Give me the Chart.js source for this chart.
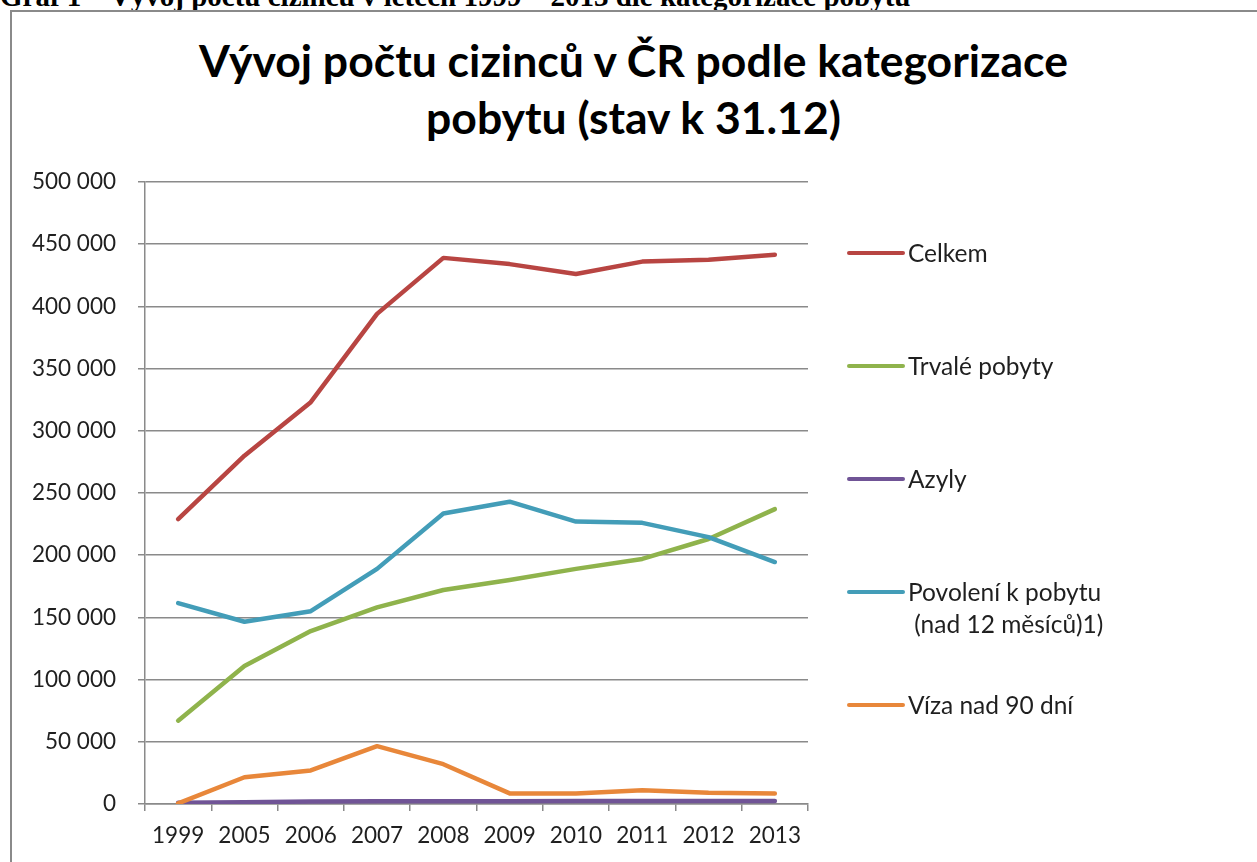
<!DOCTYPE html>
<html lang="cs">
<head>
  <meta charset="UTF-8">
  <title>Vývoj počtu cizinců v ČR podle kategorizace pobytu</title>
  <script src="https://cdn.jsdelivr.net/npm/chart.js"></script>
  <style>
    body {
      margin: 0;
      width: 1257px;
      height: 862px;
      overflow: hidden;
      position: relative;
      background: #fff;
      font-family: Lato, sans-serif;
    }

    #caption {
      position: absolute;
      left: 0;
      top: -18px;
      font: bold 29px 'Liberation Serif', serif;
      line-height: 28px;
      white-space: nowrap;
      color: #000;
    }

    #frame {
      position: absolute;
      left: 10px;
      top: 10px;
      width: 1300px;
      height: 900px;
      border-left: 2px solid #8a8a8a;
      border-top: 2px solid #8a8a8a;
    }

    #title {
      position: absolute;
      left: 10px;
      right: 0;
      top: 31px;
      text-align: center;
      font: bold 44.5px Lato, sans-serif;
      line-height: 57px;
      color: #000;
    }

    #chartContainer {
      position: absolute;
      left: 0;
      top: 0;
      width: 1257px;
      height: 862px;
    }
  </style>
</head>
<body>
  <div id="caption">Graf 1 – Vývoj počtu cizinců v letech 1999 – 2013 dle kategorizace pobytu</div>
  <div id="frame"></div>
  <div id="title">Vývoj počtu cizinců v ČR podle kategorizace<br>pobytu (stav k 31.12)</div>
  <div id="chartContainer">
    <canvas id="foreignersChart" width="1257" height="862"></canvas>
  </div>

  <script>
    const years = ['1999', '2005', '2006', '2007', '2008', '2009', '2010', '2011', '2012', '2013'];

    const celkem    = [229000, 280000, 323000, 394000, 439000, 434000, 426000, 436000, 437500, 441500];
    const trvale    = [67000, 111000, 139000, 158000, 172000, 180000, 189000, 197000, 213000, 237000];
    const azyly     = [1000, 1500, 2000, 2200, 2300, 2300, 2400, 2400, 2500, 2500];
    const povoleni  = [161500, 146500, 155000, 189000, 233500, 243000, 227000, 226000, 214500, 194500];
    const viza      = [500, 21500, 27000, 46500, 32000, 8500, 8500, 11000, 9000, 8500];

    const seriesNames = ['Celkem', 'Trvalé pobyty', 'Azyly', 'Povolení k pobytu\n (nad 12 měsíců)1)', 'Víza nad 90 dní'];
    const seriesColors = ['#b84542', '#8fb34c', '#705496', '#439db8', '#e8873a'];
    const seriesData = [celkem, trvale, azyly, povoleni, viza];

    const yTicks = { min: 0, max: 500000, step: 50000 };

    function formatThousands(v) {
      return String(v).replace(/\B(?=(\d{3})+(?!\d))/g, ' ');
    }

    // legend on the right, spaced out like the Excel original
    const sideLegend = {
      id: 'sideLegend',
      afterDraw(chart) {
        const ctx = chart.ctx;
        const x0 = chart.chartArea.right + 41;
        ctx.save();
        ctx.font = '24.5px Lato, sans-serif';
        ctx.textBaseline = 'middle';
        chart.data.datasets.forEach((ds, i) => {
          const y = 253 + 113 * i;
          ctx.strokeStyle = ds.borderColor;
          ctx.lineWidth = 4;
          ctx.lineCap = 'round';
          ctx.beginPath();
          ctx.moveTo(x0, y);
          ctx.lineTo(x0 + 54, y);
          ctx.stroke();
          ctx.fillStyle = '#1f1f1f';
          ds.label.split('\n').forEach((line, k) => {
            ctx.fillText(line, x0 + 59, y + 1 + k * 32);
          });
        });
        ctx.restore();
      }
    };

    const ctx = document.getElementById('foreignersChart').getContext('2d');
    const chart = new Chart(ctx, {
      type: 'line',
      data: {
        labels: years,
        datasets: seriesData.map((d, i) => ({
          label: seriesNames[i],
          data: d,
          borderColor: seriesColors[i],
          backgroundColor: seriesColors[i],
          borderWidth: 4.5,
          borderCapStyle: 'round',
          borderJoinStyle: 'round',
          pointRadius: 0,
          tension: 0,
          fill: false,
          order: seriesData.length - i
        }))
      },
      options: {
        responsive: false,
        animation: false,
        layout: {
          padding: { left: 10, top: 182, right: 449, bottom: 0 }
        },
        plugins: {
          legend: { display: false },
          title: { display: false },
          tooltip: { enabled: false }
        },
        scales: {
          x: {
            offset: true,
            grid: {
              offset: true,
              drawOnChartArea: false,
              drawTicks: true,
              tickLength: 7,
              color: '#8a8a8a',
              lineWidth: 1.5
            },
            border: { color: '#8a8a8a', width: 1.5 },
            ticks: {
              color: '#1f1f1f',
              font: { family: 'Lato', size: 22.5 },
              padding: 11,
              maxRotation: 0,
              autoSkip: false
            },
            afterFit: (s) => { s.height = 58; }
          },
          y: {
            min: yTicks.min,
            max: yTicks.max,
            grid: {
              color: '#8a8a8a',
              lineWidth: 1.5,
              tickLength: 7
            },
            border: { color: '#8a8a8a', width: 1.5 },
            ticks: {
              stepSize: yTicks.step,
              color: '#1f1f1f',
              font: { family: 'Lato', size: 22.5 },
              padding: 22,
              callback: (v) => formatThousands(v)
            },
            afterFit: (s) => { s.width = 135; }
          }
        }
      },
      plugins: [sideLegend]
    });
  </script>
</body>
</html>
